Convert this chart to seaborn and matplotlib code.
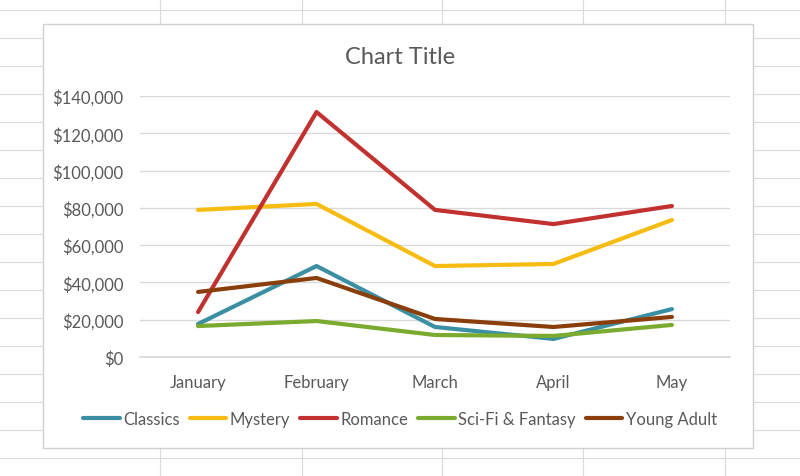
import matplotlib.pyplot as plt
import pandas as pd
import seaborn as sns
from matplotlib.lines import Line2D
from matplotlib.patches import Rectangle
from matplotlib.ticker import FuncFormatter

months = ["January", "February", "March", "April", "May"]
classics = [17700, 48800, 16100, 9700, 25700]
mystery = [78900, 82100, 48800, 49900, 73500]
romance = [24100, 131400, 78900, 71300, 81000]
scifi = [16600, 19300, 11800, 11300, 17200]
young_adult = [34900, 42400, 20400, 16100, 21500]

series = {
    "Classics": classics,
    "Mystery": mystery,
    "Romance": romance,
    "Sci-Fi & Fantasy": scifi,
    "Young Adult": young_adult,
}
colors = ["#3a8fa3", "#f7bc11", "#c1312f", "#7aab2f", "#8a3e0b"]

rows = []
for name, vals in series.items():
    for i, v in enumerate(vals):
        rows.append({"month": i, "genre": name, "sales": v})
df = pd.DataFrame(rows)

sns.set_theme(style="white")
plt.rcParams["font.family"] = ["Lato", "DejaVu Sans"]

W, H = 800, 477
fig = plt.figure(figsize=(8, 4.77), dpi=100)

# spreadsheet grid behind the chart
for x in [160, 302, 442, 583, 725]:
    fig.add_artist(Line2D([x / W, x / W], [0, 1], color="#dadada", lw=0.8, zorder=0))
for y in range(11, H, 28):
    fig.add_artist(Line2D([0, 1], [1 - y / H, 1 - y / H], color="#dadada", lw=0.8, zorder=0))
fig.add_artist(Rectangle((43 / W, 1 - 449 / H), 710 / W, 424 / H, facecolor="white",
                         edgecolor="#d0d0d0", lw=1, zorder=1))

ax = fig.add_axes([140 / W, 1 - 358 / H, 590 / W, 261 / H], zorder=2)
ax.patch.set_alpha(0)
sns.lineplot(data=df, x="month", y="sales", hue="genre", palette=colors, lw=3,
             legend=False, ax=ax)
ax.set_xlim(-0.49, 4.49)
ax.set_ylim(0, 140000)
ax.set_yticks(range(0, 140001, 20000))
ax.yaxis.set_major_formatter(FuncFormatter(lambda v, p: f"${v:,.0f}"))
ax.set_xticks(range(len(months)))
ax.set_xticklabels(months)
ax.grid(axis="y", color="#d9d9d9", lw=1)
ax.set_axisbelow(True)
for s in ["top", "right", "left"]:
    ax.spines[s].set_visible(False)
ax.spines["bottom"].set_color("#d9d9d9")
ax.tick_params(colors="#595959", labelsize=12, length=0, pad=12)
ax.set_xlabel("")
ax.set_ylabel("")

fig.text(0.5, 1 - 57 / H, "Chart Title", ha="center", va="center", fontsize=17,
         color="#595959", zorder=3)

handles = [Line2D([], [], color=c, lw=3) for c in colors]
leg = fig.legend(handles, list(series.keys()), loc="center", bbox_to_anchor=(0.5, 1 - 420 / H),
                 ncol=5, frameon=False, fontsize=12, labelcolor="#595959", handlelength=2.2,
                 handletextpad=0.2, columnspacing=0.6)
leg.set_zorder(3)

fig.savefig("out.png", dpi=100)
